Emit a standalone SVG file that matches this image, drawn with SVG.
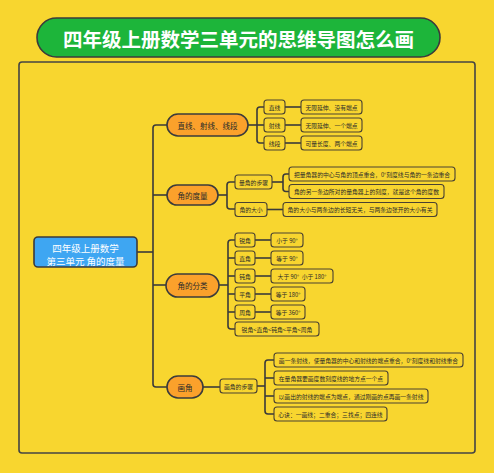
<svg xmlns="http://www.w3.org/2000/svg" width="494" height="473" viewBox="0 0 494 473">
<style>
text{font-family:"Noto Sans CJK SC","Noto Sans",sans-serif;text-anchor:middle;dominant-baseline:central}
.title{fill:#fff;font-size:19.5px;font-weight:bold}
.rootT{fill:#fff;font-size:9.5px}
.br rect{fill:#FBA12B;stroke:#3b3b3b;stroke-width:1.6}
.br text{fill:#2a2a2a;font-size:7.5px}
.sub rect{fill:#F8D52F;stroke:#4a4232;stroke-width:1.1}
.sub text{fill:#2a2a2a;font-size:5.8px}
.lf rect{fill:#F8D52F;stroke:#4a4232;stroke-width:1.1}
.lf text{fill:#2a2a2a;font-size:5.8px}
#connectors path{fill:none;stroke:#3a3a3a;stroke-width:1.6}
</style>
<rect width="494" height="473" fill="#F8D62F"/>
<rect x="19" y="62" width="456" height="391" rx="3" fill="none" stroke="#444" stroke-width="1.6"/>
<g id="title">
<rect x="37" y="18" width="403" height="39" rx="19.5" fill="#1DB53A" stroke="#3b3b3b" stroke-width="1.6"/>
<text class="title" x="238.5" y="38">四年级上册数学三单元的思维导图怎么画</text>
</g>
<g id="connectors">
<path d="M137,252 H153"/>
<path d="M167,125 H156 Q153,125 153,128 V384 Q153,387 156,387 H167"/>
<path d="M153,195 H167"/>
<path d="M153,285 H166"/>
<path d="M248,125 H257"/>
<path d="M264,107 H260 Q257,107 257,110 V140 Q257,143 260,143 H264"/>
<path d="M257,125 H264"/>
<path d="M285,107 H301"/>
<path d="M285,125 H301"/>
<path d="M285,143 H301"/>
<path d="M218,195 H227"/>
<path d="M235,182 H230 Q227,182 227,185 V206 Q227,209 230,209 H235"/>
<path d="M272,182 H283"/>
<path d="M289,174 H286 Q283,174 283,177 V188.5 Q283,191.5 286,191.5 H289"/>
<path d="M267,209.5 H283"/>
<path d="M219,285 H228"/>
<path d="M235,240 H231 Q228,240 228,243 V326 Q228,329 231,329 H235"/>
<path d="M228,258 H235"/>
<path d="M228,276 H235"/>
<path d="M228,294 H235"/>
<path d="M228,312 H235"/>
<path d="M255,240 H271"/>
<path d="M255,258 H271"/>
<path d="M255,276 H271"/>
<path d="M255,294 H271"/>
<path d="M255,312 H271"/>
<path d="M203,387 H220"/>
<path d="M257,386 H265"/>
<path d="M274,360 H268 Q265,360 265,363 V411 Q265,414 268,414 H274"/>
<path d="M265,378 H274"/>
<path d="M265,396 H274"/>
</g>
<g id="root">
<rect x="34" y="237" width="103" height="30" rx="4" fill="#3EA6F2" stroke="#3b3b3b" stroke-width="1.6"/>
<text class="rootT" x="85.5" y="247.5">四年级上册数学</text>
<text class="rootT" x="85.5" y="260.5">第三单元 角的度量</text>
</g>
<g id="b1" class="br"><rect x="167" y="114" width="81" height="22" rx="11"/><text x="207.5" y="125">直线、射线、线段</text></g>
<g id="b2" class="br"><rect x="167" y="185" width="51" height="20" rx="10"/><text x="192.5" y="195">角的度量</text></g>
<g id="b3" class="br"><rect x="166" y="274" width="53" height="23" rx="11.5"/><text x="192.5" y="285.5">角的分类</text></g>
<g id="b4" class="br"><rect x="167" y="376" width="36" height="22" rx="11"/><text x="185" y="387">画角</text></g>

<g id="s_zhixian" class="sub"><rect x="264" y="100" width="21" height="14" rx="3"/><text x="274.5" y="107">直线</text></g>
<g id="s_shexian" class="sub"><rect x="264" y="118" width="21" height="14" rx="3"/><text x="274.5" y="125">射线</text></g>
<g id="s_xianduan" class="sub"><rect x="264" y="136" width="21" height="14" rx="3"/><text x="274.5" y="143">线段</text></g>
<g id="l1" class="lf"><rect x="301" y="100" width="61" height="14" rx="3"/><text x="331.5" y="107">无限延伸、没有端点</text></g>
<g id="l2" class="lf"><rect x="301" y="118" width="61" height="14" rx="3"/><text x="331.5" y="125">无限延伸、一个端点</text></g>
<g id="l3" class="lf"><rect x="301" y="136" width="61" height="14" rx="3"/><text x="331.5" y="143">可量长度、两个端点</text></g>

<g id="s_buzhou" class="sub"><rect x="235" y="175" width="37" height="14" rx="3"/><text x="253.5" y="182">量角的步骤</text></g>
<g id="s_daxiao" class="sub"><rect x="235" y="202.5" width="32" height="14" rx="3"/><text x="251" y="209.5">角的大小</text></g>
<g id="l4" class="lf"><rect x="289" y="167" width="166" height="14" rx="3"/><text x="372" y="174">把量角器的中心与角的顶点重合，0°刻度线与角的一条边重合</text></g>
<g id="l5" class="lf"><rect x="289" y="184.5" width="155" height="14" rx="3"/><text x="366.5" y="191.5">角的另一条边所对的量角器上的刻度，就是这个角的度数</text></g>
<g id="l6" class="lf"><rect x="283" y="202.5" width="154" height="14" rx="3"/><text x="360" y="209.5">角的大小与两条边的长短无关，与两条边张开的大小有关</text></g>

<g id="s_rui" class="sub"><rect x="235" y="233" width="20" height="14" rx="3"/><text x="245" y="240">锐角</text></g>
<g id="s_zhi" class="sub"><rect x="235" y="251" width="20" height="14" rx="3"/><text x="245" y="258">直角</text></g>
<g id="s_dun" class="sub"><rect x="235" y="269" width="20" height="14" rx="3"/><text x="245" y="276">钝角</text></g>
<g id="s_ping" class="sub"><rect x="235" y="287" width="20" height="14" rx="3"/><text x="245" y="294">平角</text></g>
<g id="s_zhou" class="sub"><rect x="235" y="305" width="20" height="14" rx="3"/><text x="245" y="312">周角</text></g>
<g id="s_order" class="sub"><rect x="235" y="322" width="84" height="14" rx="3"/><text x="277" y="329">锐角&lt;直角&lt;钝角&lt;平角&lt;周角</text></g>
<g id="l7" class="lf"><rect x="271" y="233" width="32" height="14" rx="3"/><text x="287" y="240">小于 90°</text></g>
<g id="l8" class="lf"><rect x="271" y="251" width="32" height="14" rx="3"/><text x="287" y="258">等于 90°</text></g>
<g id="l9" class="lf"><rect x="271" y="269" width="62" height="14" rx="3"/><text x="302" y="276" xml:space="preserve">大于 90°  小于 180°</text></g>
<g id="l10" class="lf"><rect x="271" y="287" width="34" height="14" rx="3"/><text x="288" y="294">等于 180°</text></g>
<g id="l11" class="lf"><rect x="271" y="305" width="34" height="14" rx="3"/><text x="288" y="312">等于 360°</text></g>

<g id="s_huajiao" class="sub"><rect x="220" y="379" width="37" height="14" rx="3"/><text x="238.5" y="386">画角的步骤</text></g>
<g id="l12" class="lf"><rect x="274" y="353" width="189" height="14" rx="3"/><text x="368.5" y="360">画一条射线，使量角器的中心和射线的端点重合，0°刻度线和射线重合</text></g>
<g id="l13" class="lf"><rect x="274" y="371" width="114" height="14" rx="3"/><text x="331" y="378">在量角器要画度数刻度线的地方点一个点</text></g>
<g id="l14" class="lf"><rect x="274" y="389" width="154" height="14" rx="3"/><text x="351" y="396">以画出的射线的端点为端点，通过刚画的点再画一条射线</text></g>
<g id="l15" class="lf"><rect x="274" y="407" width="113" height="14" rx="3"/><text x="330.5" y="414">心诀：一画线；二重合；三找点；四连线</text></g>
</svg>
